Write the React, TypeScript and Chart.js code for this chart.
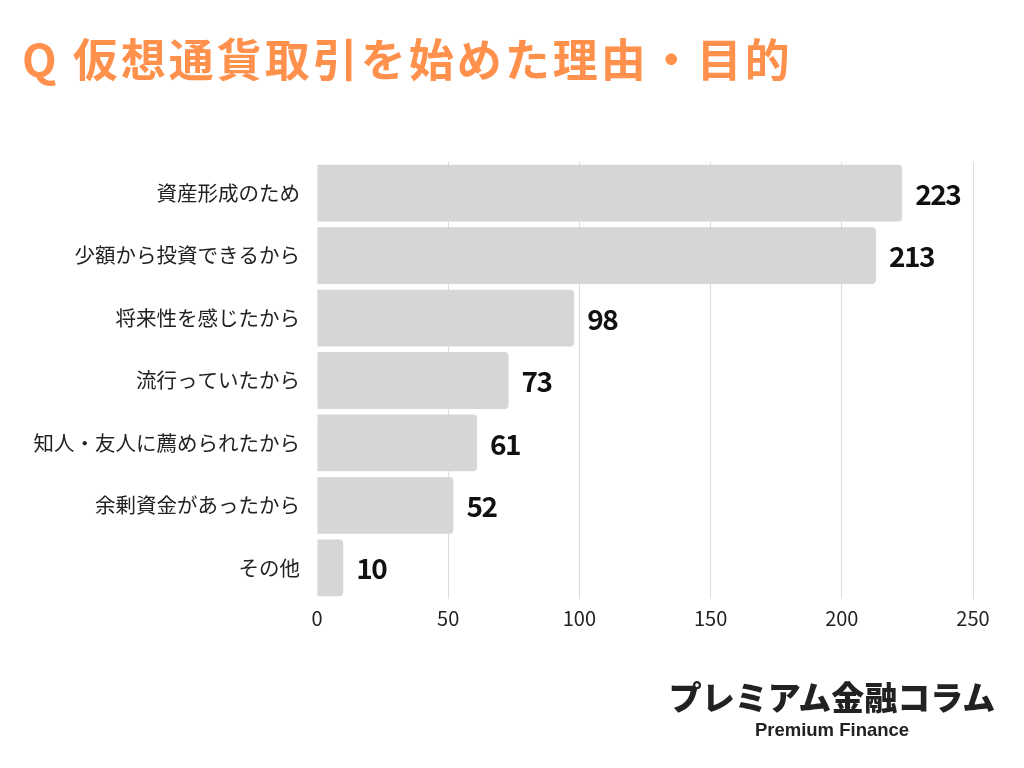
import React, { useEffect, useRef } from 'react';
import { Chart, registerables } from 'chart.js';

Chart.register(...registerables);

const titleText = 'Q 仮想通貨取引を始めた理由・目的';
const categories = [
  '資産形成のため',
  '少額から投資できるから',
  '将来性を感じたから',
  '流行っていたから',
  '知人・友人に薦められたから',
  '余剰資金があったから',
  'その他',
];
const values = [223, 213, 98, 73, 61, 52, 10];
const xTicks = [0, 50, 100, 150, 200, 250];
const brandJa = 'プレミアム金融コラム';
const brandEn = 'Premium Finance';

const FONT = '"Noto Sans CJK JP", "Noto Sans", sans-serif';

const valueLabelPlugin = {
  id: 'valueLabels',
  afterDatasetsDraw(chart: any) {
    const { ctx } = chart;
    const meta = chart.getDatasetMeta(0);
    ctx.save();
    ctx.font = `bold 28px ${FONT}`;
    try {
      (ctx as any).letterSpacing = '-1.5px';
    } catch (e) {}
    ctx.fillStyle = '#111111';
    ctx.textAlign = 'left';
    ctx.textBaseline = 'middle';
    meta.data.forEach((bar: any, i: number) => {
      ctx.fillText(String(values[i]), bar.x + 13, bar.y + 1);
    });
    ctx.restore();
  },
};

export default function App() {
  const canvasRef = useRef<HTMLCanvasElement | null>(null);

  useEffect(() => {
    if (!canvasRef.current) return;
    const chart = new Chart(canvasRef.current, {
      type: 'bar',
      data: {
        labels: categories,
        datasets: [
          {
            data: values,
            backgroundColor: '#d6d6d6',
            borderRadius: 4,
            categoryPercentage: 1,
            barPercentage: 0.91,
          },
        ],
      },
      options: {
        indexAxis: 'y',
        responsive: false,
        animation: false,
        devicePixelRatio: 1,
        layout: { padding: { top: 162, right: 51, left: 0, bottom: 129 } },
        plugins: {
          legend: { display: false },
          tooltip: { enabled: false },
          title: { display: false },
        },
        scales: {
          x: {
            type: 'linear',
            min: 0,
            max: 250,
            afterBuildTicks: (scale: any) => {
              scale.ticks = xTicks.map((v) => ({ value: v }));
            },
            afterFit: (scale: any) => {
              scale.height = 40;
            },
            grid: {
              color: (c: any) => (c.tick && c.tick.value === 0 ? 'rgba(0,0,0,0)' : '#dcdcdc'),
              drawTicks: false,
            },
            border: { display: false },
            ticks: {
              padding: 7,
              color: '#222222',
              font: { family: FONT, size: 20 },
            },
          },
          y: {
            type: 'category',
            afterFit: (scale: any) => {
              scale.width = 317;
            },
            grid: { display: false, drawTicks: false },
            border: { display: false },
            ticks: {
              padding: 17,
              color: '#222222',
              font: { family: FONT, size: 20.5 },
            },
          },
        },
      },
      plugins: [valueLabelPlugin],
    });
    return () => chart.destroy();
  }, []);

  return (
    <div style={{ position: 'absolute', left: 0, top: 0, width: 1024, height: 768, background: '#ffffff', overflow: 'hidden' }}>
      <canvas ref={canvasRef} width={1024} height={768} style={{ position: 'absolute', left: 0, top: 0, width: 1024, height: 768 }} />
      <div
        style={{
          position: 'absolute',
          left: 22,
          top: 28,
          fontFamily: FONT,
          fontWeight: 700,
          fontSize: 45,
          lineHeight: '60px',
          color: '#ff914d',
          letterSpacing: 3,
          whiteSpace: 'nowrap',
        }}
      >
        {titleText}
      </div>
      <div
        style={{
          position: 'absolute',
          left: 632,
          top: 674,
          width: 400,
          textAlign: 'center',
          fontFamily: FONT,
          fontWeight: 900,
          fontSize: 33,
          lineHeight: '44px',
          color: '#222222',
          whiteSpace: 'nowrap',
        }}
      >
        {brandJa}
      </div>
      <div
        style={{
          position: 'absolute',
          left: 632,
          top: 718,
          width: 400,
          textAlign: 'center',
          fontFamily: '"Liberation Sans", Arial, sans-serif',
          fontWeight: 700,
          fontSize: 18.5,
          lineHeight: '24px',
          color: '#222222',
          whiteSpace: 'nowrap',
        }}
      >
        {brandEn}
      </div>
    </div>
  );
}
